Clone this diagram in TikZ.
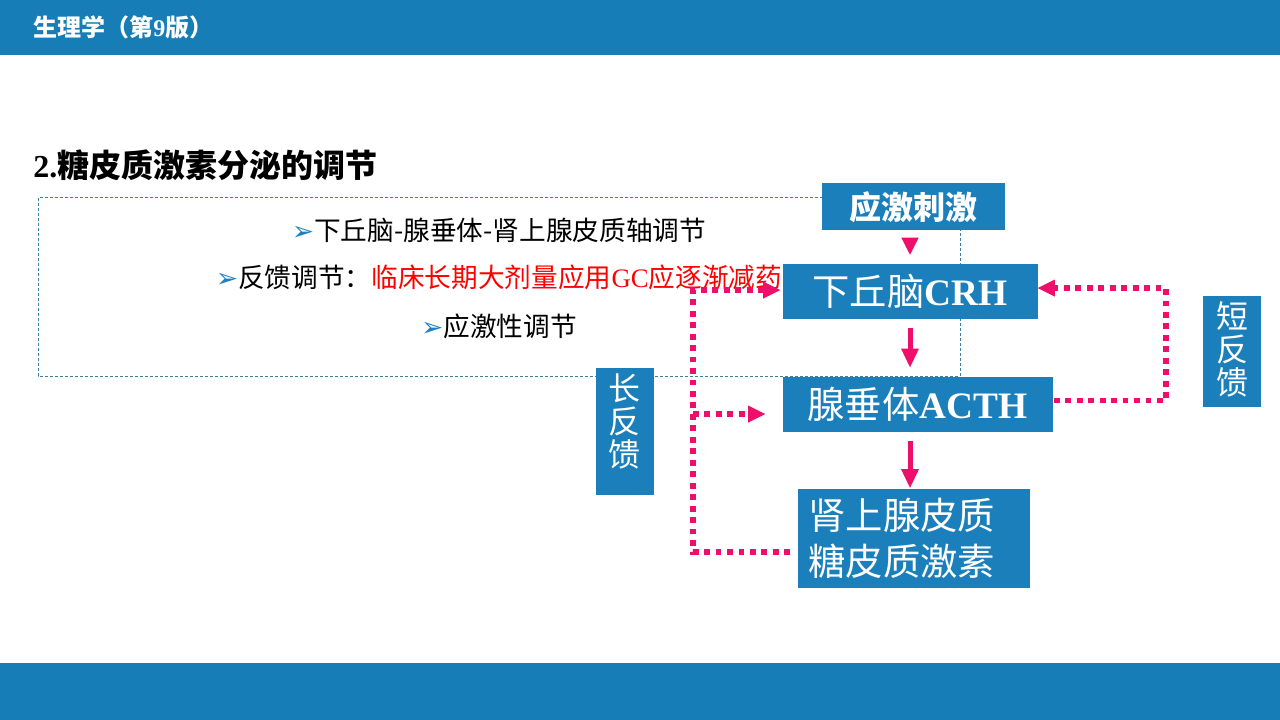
\documentclass[tikz,border=0pt]{standalone}
\usepackage{fontspec}
\setmainfont{Liberation Serif}
\newfontfamily\cjk{Noto Sans CJK SC}
\newfontfamily\dingfont{DejaVu Sans}
\usetikzlibrary{positioning, arrows.meta}

\definecolor{barblue}{HTML}{167DB7}
\definecolor{boxblue}{HTML}{1A7FBA}
\definecolor{fbpink}{HTML}{EE0F6A}
\definecolor{framegray}{HTML}{3D7FA3}
\definecolor{bulletblue}{HTML}{1F80C2}

\newcommand{\bulletmark}{{\dingfont\fontsize{20pt}{20pt}\selectfont\color{bulletblue}➢}}

\begin{document}
\begin{tikzpicture}[x=0.75pt, y=-0.75pt,
    bluebox/.style={fill=boxblue, text=white, inner sep=0pt},
    flowtext/.style={font=\fontsize{28pt}{34.5pt}\selectfont},
    mainarrow/.style={draw=fbpink, line width=3.75pt, -{Triangle[length=14pt, width=13.5pt, line width=0pt]}},
    feedback/.style={draw=fbpink, line width=4pt, dash pattern=on 4.4pt off 4.2pt, -{Triangle[length=12.75pt, width=12.75pt, line width=0pt]}},
    axis/.style={font=\cjk\fontsize{20pt}{24pt}\selectfont, inner sep=0pt},
    fbtext/.style={text=white, align=center, inner sep=0pt, font=\cjk\fontsize{24pt}{24.75pt}\selectfont}]

    % Page bars and frame
    \useasboundingbox (0,0) rectangle (1280,720);
    \fill[barblue] (0,0) rectangle (1280,55);
    \fill[barblue] (0,663) rectangle (1280,720);
    \draw[framegray, line width=0.75pt, dash pattern=on 2.25pt off 1.5pt] (38,198) rectangle (960,376);

    % Headings
    \node[anchor=west, text=white, inner sep=0pt, font=\cjk\bfseries\fontsize{18pt}{20pt}\selectfont] (header) at (33,27) {生理学（第{\rmfamily 9}版）};
    \node[anchor=west, inner sep=0pt, font=\bfseries\fontsize{24pt}{28pt}\selectfont] (title) at (33,165) {2.{\cjk 糖皮质激素分泌的调节}};

    % Three points
    \node[axis] (axis1) at (499,230) {\bulletmark 下丘脑-腺垂体-肾上腺皮质轴调节};
    \node[axis] (axis2) at (499,277) {\bulletmark 反馈调节：{\color{red}临床长期大剂量应用{\rmfamily GC}应逐渐减药}};
    \node[axis] (axis3) at (499,326) {\bulletmark 应激性调节};

    % Axis boxes
    \node[bluebox, flowtext, minimum width=191.25pt, minimum height=41.25pt] (crh) at (910,291.5) {{\cjk 下丘脑}\textbf{CRH}};
    \node[bluebox, minimum width=137.25pt, minimum height=35.25pt, font=\cjk\bfseries\fontsize{24pt}{28pt}\selectfont, above=24.75pt of crh, xshift=2.6pt] (stim) {应激刺激};
    \node[bluebox, flowtext, minimum width=202.5pt, minimum height=41.25pt, below=42.75pt of crh.south west, anchor=north west] (acth) {{\cjk 腺垂体}\textbf{ACTH}};
    \node[bluebox, font=\cjk\fontsize{28pt}{34.5pt}\selectfont, text width=157.5pt, inner xsep=8.25pt, align=left, minimum height=74.25pt, below=42.75pt of acth, xshift=-3pt] (adr) {肾上腺皮质\\糖皮质激素};

    % Feedback labels
    \node[bluebox, minimum width=43.5pt, minimum height=95.25pt] (longfb) at (624.5,431.5) {};
    \node[fbtext, below=4pt of longfb.north] (longtext) {长\\反\\馈};
    \node[bluebox, minimum width=43.5pt, minimum height=83.25pt] (shortfb) at (1232,351.5) {};
    \node[fbtext, below=4.5pt of shortfb.north] (shorttext) {短\\反\\馈};

    % Main arrows
    \draw[mainarrow, -{Triangle[length=12.75pt, width=13pt, line width=0pt]}, shorten <=5.25pt, shorten >=6.75pt] (stim.south -| crh) -- (crh.north);
    \draw[mainarrow, shorten <=6.75pt, shorten >=6.75pt] (crh.south) -- (crh.south |- acth.north);
    \draw[mainarrow, shorten <=6.75pt, shorten >=0.75pt] (crh.south |- acth.south) -- (crh.south |- adr.north);

    % Short feedback
    \coordinate (shortcorner) at (1166,345);
    \draw[feedback, shorten <=0.75pt] ([yshift=2.6pt]acth.east) -| (shortcorner) |- ([yshift=2.6pt]crh.east);

    % Long feedback
    \coordinate (longjoin) at (693,414);
    \draw[feedback, shorten <=5.25pt, shorten >=1.5pt] ([yshift=-10pt]adr.west) -| (longjoin) |- ([yshift=1.1pt]crh.west);
    \draw[feedback, shorten >=12.75pt] (longjoin) -- (longjoin -| acth.west);

\end{tikzpicture}
\end{document}
